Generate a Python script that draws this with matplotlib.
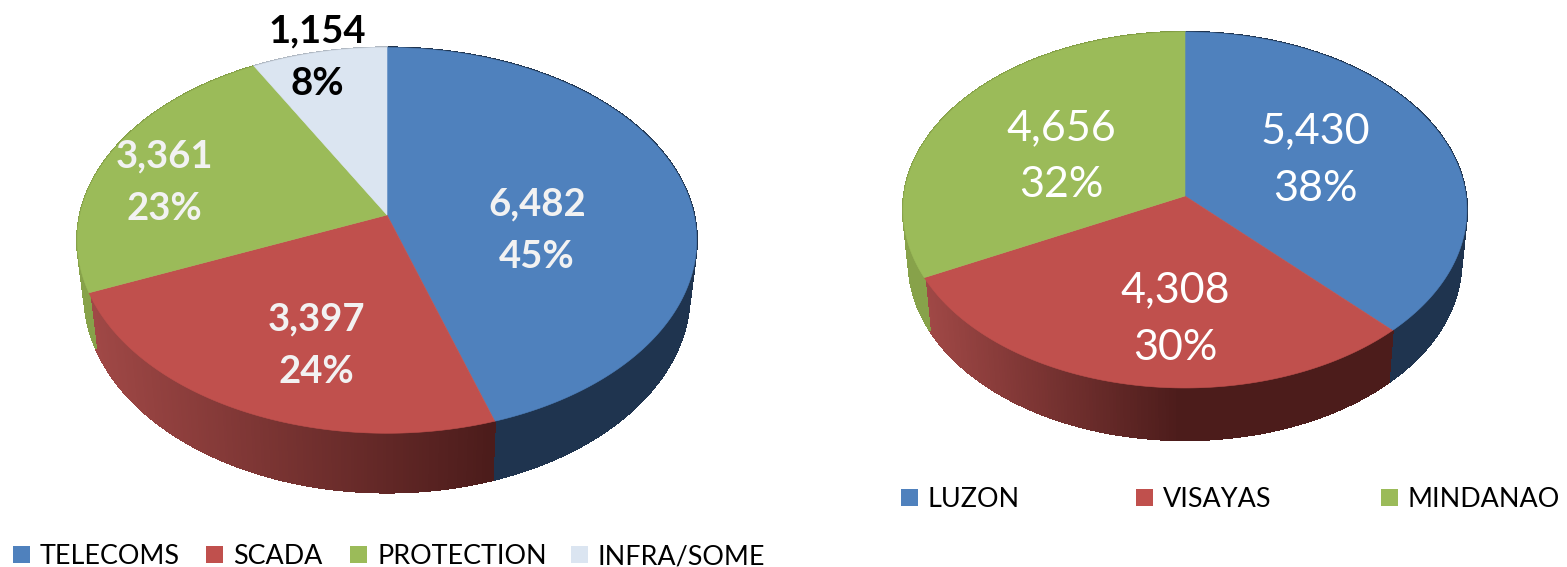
import numpy as np
import matplotlib
matplotlib.use('Agg')
import matplotlib.pyplot as plt
from matplotlib.collections import PolyCollection
from matplotlib.colors import to_rgb
from matplotlib.patches import Polygon, Rectangle

plt.rcParams['font.family'] = ['Lato', 'DejaVu Sans']

# left pie
disc_names = ['TELECOMS', 'SCADA', 'PROTECTION', 'INFRA/SOME']
disc_values = [6482, 3397, 3361, 1154]
# right pie
area_names = ['LUZON', 'VISAYAS', 'MINDANAO']
area_values = [5430, 4308, 4656]

top_colors = ['#4f81bd', '#c0504d', '#9bbb59', '#dbe5f1']
side_start = ['#1f344f', '#a04846', '#87a24a', '#b0b8c2']
side_end = ['#1f344f', '#4c1c1b', '#7f9a41', '#b0b8c2']


def project(theta, pie):
    # clockwise from twelve o'clock, tilted disc with perspective
    u = np.sin(theta)
    v = np.cos(theta)
    w = 1 + pie['k'] * v
    return pie['b'] * u / w, pie['a'] * v / w


def draw_pie(ax, values, pie):
    total = sum(values)
    edges = np.concatenate([[0], np.cumsum(values)]) / total * 2 * np.pi
    cx, cy = pie['center']

    # side wall first, the top covers whatever is behind
    for i in range(len(values)):
        t = np.linspace(edges[i], edges[i + 1], 160)
        x, y = project(t, pie)
        x0 = cx + x
        y0 = cy - y
        x1 = cx + x * pie['xs']
        y1 = cy - (y * pie['ys'] - pie['depth'])
        quads = []
        cols = []
        c0 = np.array(to_rgb(side_start[i]))
        c1 = np.array(to_rgb(side_end[i]))
        for j in range(len(t) - 1):
            quads.append([(x0[j], y0[j]), (x0[j + 1], y0[j + 1]),
                          (x1[j + 1], y1[j + 1]), (x1[j], y1[j])])
            f = np.clip((x0[j] - pie['shade'][0]) / (pie['shade'][1] - pie['shade'][0]), 0, 1)
            cols.append(c0 + (c1 - c0) * f)
        ax.add_collection(PolyCollection(quads, facecolors=cols, edgecolors=cols,
                                         linewidths=1.0, antialiaseds=False,
                                         zorder=2 + 0.1 * i))

    for i in range(len(values)):
        t = np.linspace(edges[i], edges[i + 1], 200)
        x, y = project(t, pie)
        pts = [(cx, cy)] + list(zip(cx + x, cy - y))
        ax.add_patch(Polygon(pts, closed=True, facecolor=top_colors[i],
                             edgecolor=top_colors[i], linewidth=0.4, zorder=3))


def draw_labels(ax, values, spots, colors, size, weight):
    total = sum(values)
    for v, (x, y1, y2), c in zip(values, spots, colors):
        ax.text(x, y1, f'{v:,}', color=c, fontsize=size, fontweight=weight,
                ha='center', va='center', zorder=5)
        ax.text(x, y2, f'{round(v / total * 100)}%', color=c, fontsize=size,
                fontweight=weight, ha='center', va='center', zorder=5)


def draw_legend(ax, names, xs, y, size):
    for i, (name, x) in enumerate(zip(names, xs)):
        ax.add_patch(Rectangle((x, y - 8), 17, 17, facecolor=top_colors[i], edgecolor='none'))
        ax.text(x + 27, y, name, fontsize=size, color='black', ha='left', va='center_baseline')


fig = plt.figure(figsize=(15.67, 5.67), dpi=100)
ax = fig.add_axes([0, 0, 1, 1])
ax.set_xlim(0, 1567)
ax.set_ylim(567, 0)
ax.axis('off')

left_pie = dict(center=(387, 215), a=189.5, b=307.0, k=0.1318, depth=53, xs=0.977, ys=1.028,
                shade=(90, 490))
right_pie = dict(center=(1185, 196), a=176.9, b=281.0, k=0.0786, depth=52, xs=0.98, ys=1.0,
                 shade=(925, 1180))
draw_pie(ax, disc_values, left_pie)
draw_pie(ax, area_values, right_pie)

draw_labels(ax, disc_values,
            [(537, 204, 257), (316, 319, 372), (164, 156, 209), (317, 31, 84)],
            ['#f2f2f2', '#f2f2f2', '#f2f2f2', 'black'], 27.5, 'bold')
draw_labels(ax, area_values,
            [(1315, 131, 189), (1175, 290, 348), (1061, 128, 185)],
            ['white', 'white', 'white'], 31, 'normal')

draw_legend(ax, disc_names, [13, 206, 350, 571], 554, 19.4)
draw_legend(ax, area_names, [901, 1136, 1381], 497, 19.4)

fig.savefig('out.png', dpi=100, facecolor='white')
